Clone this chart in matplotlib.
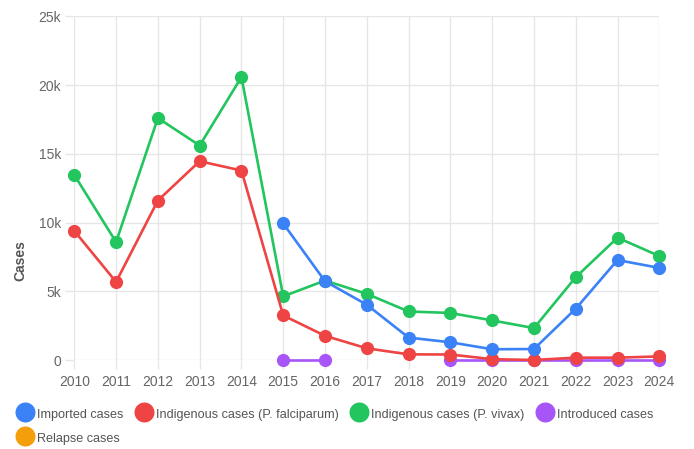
import numpy as np
import matplotlib
matplotlib.use('Agg')
import matplotlib.pyplot as plt
from matplotlib.ticker import FuncFormatter

plt.rcParams['font.family'] = ['Liberation Sans', 'DejaVu Sans']

# --- 数据 ---
years = [2010, 2011, 2012, 2013, 2014, 2015, 2016, 2017,
         2018, 2019, 2020, 2021, 2022, 2023, 2024]
nan = np.nan
imported = [nan, nan, nan, nan, nan, 9930, 5730, 4020,
            1630, 1290, 780, 800, 3730, 7270, 6700]
indig_falciparum = [9390, 5680, 11600, 14460, 13780, 3240, 1760, 850,
                    410, 400, 60, 0, 170, 170, 260]
indig_vivax = [13460, 8580, 17600, 15600, 20580, 4630, 5780, 4810,
               3530, 3420, 2880, 2320, 6020, 8900, 7560]
introduced = [nan, nan, nan, nan, nan, 0, 0, nan,
              nan, 0, 0, 0, 0, 0, 0]
relapse = [nan] * len(years)

series_names = ['Imported cases', 'Indigenous cases (P. falciparum)',
                'Indigenous cases (P. vivax)', 'Introduced cases', 'Relapse cases']
series_values = [imported, indig_falciparum, indig_vivax, introduced, relapse]
colors = ['#3b82f6', '#ef4444', '#22c55e', '#a855f7', '#f59e0b']

W, H = 694, 449
fig = plt.figure(figsize=(W / 100, H / 100), dpi=100)
ax = fig.add_axes([74.3 / W, 1 - 360 / H, (659.3 - 74.3) / W, (360 - 16.3) / H])

grid_c = '#e6e6e6'
tick_c = '#666666'

lines = []
for i, (name, vals, c) in enumerate(zip(series_names, series_values, colors)):
    # 第一个数据集画在最上层
    ln, = ax.plot(years, vals, color=c, lw=1.9, marker='o', markersize=9.5,
                  markeredgewidth=0, label=name, zorder=10 - i, clip_on=False)
    lines.append(ln)

ax.set_xlim(2010, 2024)
ax.set_ylim(0, 25000)
ax.set_xticks(years)
ax.set_yticks(np.arange(0, 25001, 5000))
ax.yaxis.set_major_formatter(FuncFormatter(lambda v, p: '0' if v == 0 else f'{int(v / 1000)}k'))

ax.grid(True, color=grid_c, lw=1.0)
ax.set_axisbelow(True)
for s in ax.spines.values():
    s.set_visible(False)
ax.tick_params(axis='both', colors=grid_c, labelcolor=tick_c, labelsize=10,
               length=6.5, width=1.0)
ax.tick_params(axis='x', pad=4.5)
ax.tick_params(axis='y', pad=3)

fig.text(20 / W, 188 / H, 'Cases', rotation=90, ha='center', va='center',
         fontsize=10, fontweight='bold', color='#555555')

# legend 按列填充, 调整顺序得到按行排列的效果
order = [0, 4, 1, 2, 3]
leg = fig.legend([lines[k] for k in order], [series_names[k] for k in order],
                 loc='upper left', bbox_to_anchor=(15 / W, 1 - 406.3 / H),
                 ncol=4, frameon=False, fontsize=9.1, borderpad=0, borderaxespad=0,
                 handlelength=1.58, handleheight=1.58, handletextpad=0.18,
                 columnspacing=0.8, labelspacing=0.62, labelcolor='#555555')
for h in leg.legend_handles:
    h.set_linestyle('None')
    h.set_markersize(14.4)

fig.savefig('out.png', dpi=100, facecolor='white')
